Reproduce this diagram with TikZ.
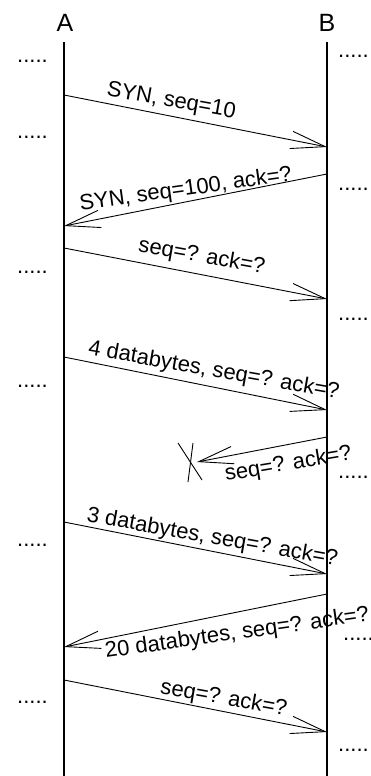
\documentclass[tikz,border=0pt]{standalone}
\usepackage{fontspec}
\setmainfont{Liberation Sans}
\usetikzlibrary{arrows.meta}
\begin{document}
\begin{tikzpicture}[x=1pt,y=-1pt,
  lifeline/.style={line width=1.3pt},
  msg/.style={line width=0.9pt,-{Straight Barb[length=34.5pt,width=17.5pt,line width=0.9pt]}},
  cross/.style={line width=0.9pt},
  head/.style={inner sep=0pt,anchor=base,font=\fontsize{25}{30}\selectfont},
  lbl/.style={inner sep=0pt,anchor=base west,font=\fontsize{22}{26}\selectfont},
  dots/.style={inner sep=0pt,anchor=base west,font=\fontsize{22}{26}\selectfont}]
\useasboundingbox (0,0) rectangle (371,776);
% headers
\node[head] (A) at (65,32) {A};
\node[head] (B) at (327,32) {B};
% lifelines
\coordinate (Atop) at (64,42);  \coordinate (Abot) at (64,776);
\coordinate (Btop) at (327,42); \coordinate (Bbot) at (327,776);
\draw[lifeline] (Atop) -- (Abot);
\draw[lifeline] (Btop) -- (Bbot);
% dots left
\node[dots] (dl1) at (17,63) {.....};
\node[dots] (dl2) at (17,138) {.....};
\node[dots] (dl3) at (17,273) {.....};
\node[dots] (dl4) at (17,387.5) {.....};
\node[dots] (dl5) at (17,546) {.....};
\node[dots] (dl6) at (17,703) {.....};
% dots right
\node[dots] (dr1) at (338,58) {.....};
\node[dots] (dr2) at (338,190) {.....};
\node[dots] (dr3) at (338,320.5) {.....};
\node[dots] (dr4) at (338,478) {.....};
\node[dots] (dr5) at (343,640) {.....};
\node[dots] (dr6) at (338,751) {.....};
% message end points
\coordinate (a1) at (64,95);   \coordinate (b1) at (327,147);
\coordinate (b2) at (327,174); \coordinate (a2) at (64,226);
\coordinate (a3) at (64,248);  \coordinate (b3) at (327,299);
\coordinate (a4) at (64,357);  \coordinate (b4) at (327,410);
\coordinate (b5) at (327,437); \coordinate (x5) at (197,462);
\coordinate (a6) at (64,522);  \coordinate (b6) at (327,574);
\coordinate (b7) at (327,594); \coordinate (a7) at (64,647);
\coordinate (a8) at (64,680);  \coordinate (b8) at (327,732);
% messages
\draw[msg] (a1) -- (b1);
\draw[msg] (b2) -- (a2);
\draw[msg] (a3) -- (b3);
\draw[msg] (a4) -- (b4);
\draw[msg] (b5) -- (x5);
\draw[msg] (a6) -- (b6);
\draw[msg] (b7) -- (a7);
\draw[msg] (a8) -- (b8);
% lost message cross
\coordinate (xa1) at (178,443); \coordinate (xa2) at (202,480);
\coordinate (xb1) at (193,443); \coordinate (xb2) at (188,482);
\draw[cross] (xa1) -- (xa2);
\draw[cross] (xb1) -- (xb2);
% labels
\node[lbl,rotate=-10] (l1) at (106,95.5) {SYN, seq=10};
\node[lbl,rotate=8]   (l2) at (80.5,210.5) {SYN, seq=100, ack=?};
\node[lbl,rotate=-10] (l3) at (137.5,251.5) {seq=? ack=?};
\node[lbl,rotate=-10] (l4) at (87.5,354.5) {4 databytes, seq=? ack=?};
\node[lbl,rotate=9.5] (l5) at (226,481) {seq=? ack=?};
\node[lbl,rotate=-10] (l6) at (86,521.5) {3 databytes, seq=? ack=?};
\node[lbl,rotate=8]   (l7) at (106,658) {20 databytes, seq=? ack=?};
\node[lbl,rotate=-10] (l8) at (159.5,693.5) {seq=? ack=?};
\end{tikzpicture}
\end{document}
